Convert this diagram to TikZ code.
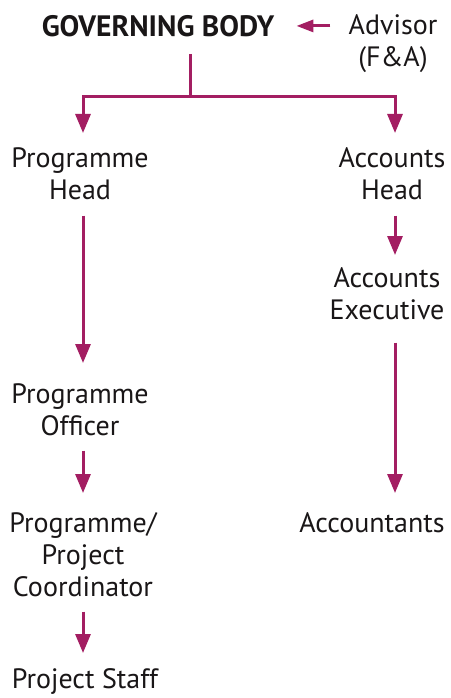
\documentclass[tikz,border=0pt]{standalone}
\usepackage{fontspec}
\setmainfont{PT Sans}
\usetikzlibrary{arrows.meta,calc}
\definecolor{mag}{RGB}{163,30,98}
\definecolor{ink}{RGB}{25,22,23}
\begin{document}
\begin{tikzpicture}[x=1pt,y=-1pt,
  lbl/.style={inner sep=0pt, align=center, anchor=north, text=ink,
    font=\fontsize{28}{32}\selectfont},
  conn/.style={draw=mag, line width=3pt},
  arr/.style={conn, -{Triangle[width=15pt,length=19pt]}},
  arrs/.style={conn, -{Triangle[width=12pt,length=17pt]}}]
\useasboundingbox (0,0) rectangle (450,698);
\node[lbl, font=\bfseries\fontsize{29.5}{32}\selectfont] (gb) at (158,15) {GOVERNING BODY};
\node[lbl] (adv) at (393,14) {Advisor\\(F\&A)};
\node[lbl] (ph) at (80,147) {Programme\\Head};
\node[lbl] (ah) at (392,147) {Accounts\\Head};
\node[lbl] (ae) at (387,267) {Accounts\\Executive};
\node[lbl] (po) at (80,383) {Programme\\Officer};
\node[lbl] (pc) at (83,512) {Programme/\\Project\\Coordinator};
\node[lbl] (ac) at (372,512) {Accountants};
\node[lbl] (ps) at (85,668) {Project Staff};
\coordinate (L) at (83,0);
\coordinate (R) at (395,0);
\coordinate (j) at (190,97);
\draw[arrs] ($(gb.east -| adv.west)+(-18,0)$) -- ($(gb.east)+(22,0)$);
\draw[conn] ($(gb.south -| j)+(0,17)$) -- (j);
\draw[arr] (j) -| ($(ph.north -| L)+(0,-14)$);
\draw[arr] (j) -| ($(ah.north -| R)+(0,-14)$);
\draw[arr] ($(ph.south -| L)+(0,16)$) -- ($(po.north -| L)+(0,-20)$);
\draw[arr] ($(po.south -| L)+(0,15)$) -- ($(pc.north -| L)+(0,-19)$);
\draw[arr] ($(pc.south -| L)+(0,15)$) -- ($(ps.north -| L)+(0,-15)$);
\draw[arr] ($(ah.south -| R)+(0,16)$) -- ($(ae.north -| R)+(0,-12)$);
\draw[arr] ($(ae.south -| R)+(0,23)$) -- ($(ac.north -| R)+(0,-19)$);
\end{tikzpicture}
\end{document}
